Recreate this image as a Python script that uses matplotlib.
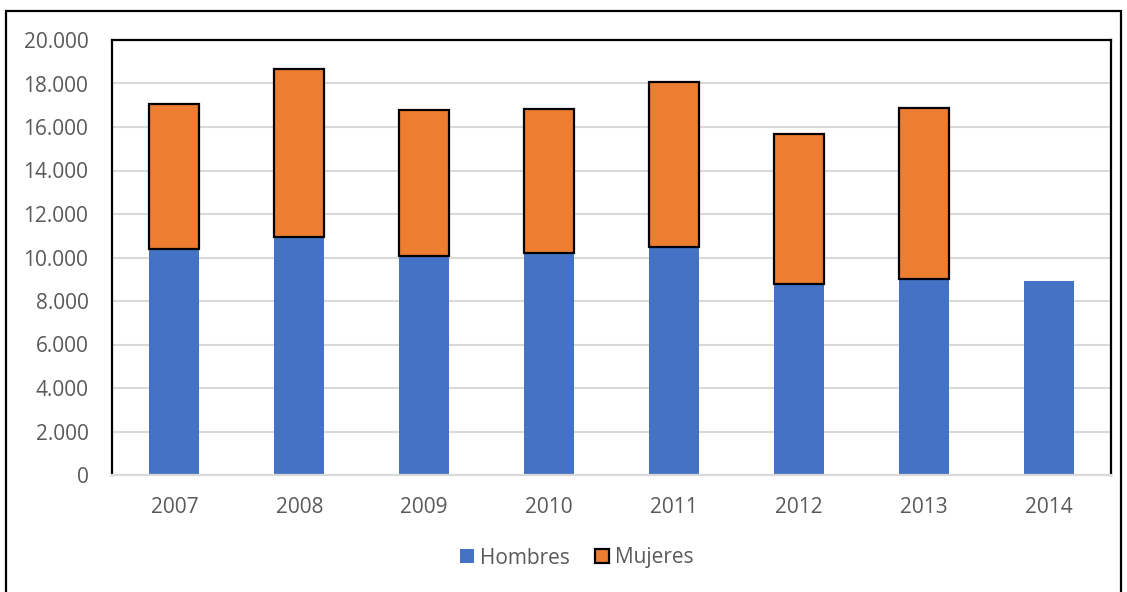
import matplotlib.pyplot as plt
from matplotlib.patches import Rectangle
from matplotlib.ticker import FuncFormatter
import numpy as np

years = ['2007', '2008', '2009', '2010', '2011', '2012', '2013', '2014']
hombres = [10400, 10930, 10050, 10210, 10470, 8760, 9000, 8900]
mujeres = [6650, 7730, 6750, 6640, 7620, 6910, 7870, 0]

blue = '#4472C4'
orange = '#ED7D31'
text_col = '#595959'

plt.rcParams['font.family'] = ['Open Sans', 'DejaVu Sans']

fig = plt.figure(figsize=(11.27, 5.92), dpi=100)
ax = fig.add_axes([112 / 1127, 1 - 475 / 592, 999 / 1127, 435 / 592])

x = np.arange(len(years))
ax.bar(x, hombres, width=0.4, color=blue, label='Hombres', zorder=2)
# los años sin dato de mujeres no llevan barra
m_idx = [i for i, v in enumerate(mujeres) if v > 0]
ax.bar(x[m_idx], [mujeres[i] for i in m_idx], width=0.4,
       bottom=[hombres[i] for i in m_idx], color=orange,
       edgecolor='black', linewidth=1.6, label='Mujeres', zorder=3)

ax.set_xlim(-0.5, len(years) - 0.5)
ax.set_ylim(0, 20000)
ax.set_yticks(np.arange(0, 20001, 2000))
ax.yaxis.set_major_formatter(FuncFormatter(lambda v, p: f'{int(v):,}'.replace(',', '.')))
ax.set_xticks(x)
ax.set_xticklabels(years)
ax.grid(axis='y', color='#D9D9D9', linewidth=1.5, zorder=0)
ax.tick_params(axis='both', length=0, labelsize=15, colors=text_col)
ax.tick_params(axis='y', pad=17)
ax.tick_params(axis='x', pad=16)

for s in ['left', 'top', 'right']:
    ax.spines[s].set_color('black')
    ax.spines[s].set_linewidth(1.6)
ax.spines['bottom'].set_color('#D9D9D9')
ax.spines['bottom'].set_linewidth(1.6)

leg = fig.legend(loc='center', bbox_to_anchor=(577 / 1127, 1 - 558 / 592), ncol=2,
                 frameon=False, fontsize=15, handlelength=0.65, handleheight=0.65,
                 handletextpad=0.3, columnspacing=1.2)
for t in leg.get_texts():
    t.set_color(text_col)

# marco exterior del gráfico
fig.patches.append(Rectangle((6 / 1127, -0.05), (1121 - 6) / 1127, 1.05 - 11 / 592,
                             transform=fig.transFigure, fill=False,
                             edgecolor='black', linewidth=1.6))

fig.savefig('out.png', dpi=100)
